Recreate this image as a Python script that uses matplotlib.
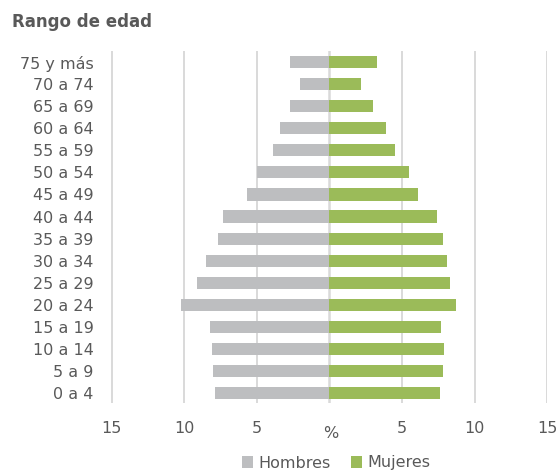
import matplotlib.pyplot as plt
import numpy as np

plt.rcParams['font.family'] = ['DejaVu Sans']

# grupos de edad, de abajo hacia arriba
grupos = ["0 a 4", "5 a 9", "10 a 14", "15 a 19", "20 a 24", "25 a 29",
          "30 a 34", "35 a 39", "40 a 44", "45 a 49", "50 a 54", "55 a 59",
          "60 a 64", "65 a 69", "70 a 74", "75 y más"]
hombres = [7.9, 8.0, 8.1, 8.2, 10.2, 9.1, 8.5, 7.7, 7.3, 5.7, 5.0, 3.9,
           3.4, 2.7, 2.0, 2.7]
mujeres = [7.6, 7.8, 7.9, 7.7, 8.7, 8.3, 8.1, 7.8, 7.4, 6.1, 5.5, 4.5,
           3.9, 3.0, 2.2, 3.3]
ticks = [-15, -10, -5, 0, 5, 10, 15]
tick_labels = ["15", "10", "5", "", "5", "10", "15"]

gris = "#BDBEC0"
verde = "#9BBB59"
texto = "#595959"
fs = 11.5

fig = plt.figure(figsize=(5.6, 4.72), dpi=100)
ax = fig.add_axes([111.5 / 560, 1 - 403 / 472, (547.3 - 111.5) / 560, (403 - 51) / 472])

y = np.arange(len(grupos))
ax.barh(y, [-h for h in hombres], height=0.55, color=gris, label="Hombres", zorder=3)
ax.barh(y, mujeres, height=0.55, color=verde, label="Mujeres", zorder=3)

ax.set_xlim(-15, 15)
ax.set_ylim(-0.45, 15.5)
ax.set_xticks(ticks)
ax.set_xticklabels(tick_labels)
ax.set_yticks(y)
ax.set_yticklabels(grupos)
ax.tick_params(axis='both', length=0, labelsize=fs, colors=texto)
ax.tick_params(axis='x', pad=13)
ax.tick_params(axis='y', pad=13)
for t in ticks:
    ax.axvline(t, color="#D9D9D9", lw=1.8 if t == 0 else 1.4, zorder=1)
for s in ax.spines.values():
    s.set_visible(False)

fig.text(331 / 560, 1 - 434 / 472, "%", ha='center', va='center',
         fontsize=fs, color=texto)
fig.text(12 / 560, 1 - 22 / 472, "Rango de edad", fontsize=12,
         fontweight='bold', color=texto, va='center', ha='left')

ax.legend(loc='center', bbox_to_anchor=(336 / 560, 1 - 463 / 472),
          bbox_transform=fig.transFigure, ncol=2, frameon=False,
          fontsize=fs, labelcolor=texto, handlelength=0.7, handleheight=0.7,
          handletextpad=0.3, columnspacing=1.3, borderaxespad=0)

fig.savefig("out.png", dpi=100)
